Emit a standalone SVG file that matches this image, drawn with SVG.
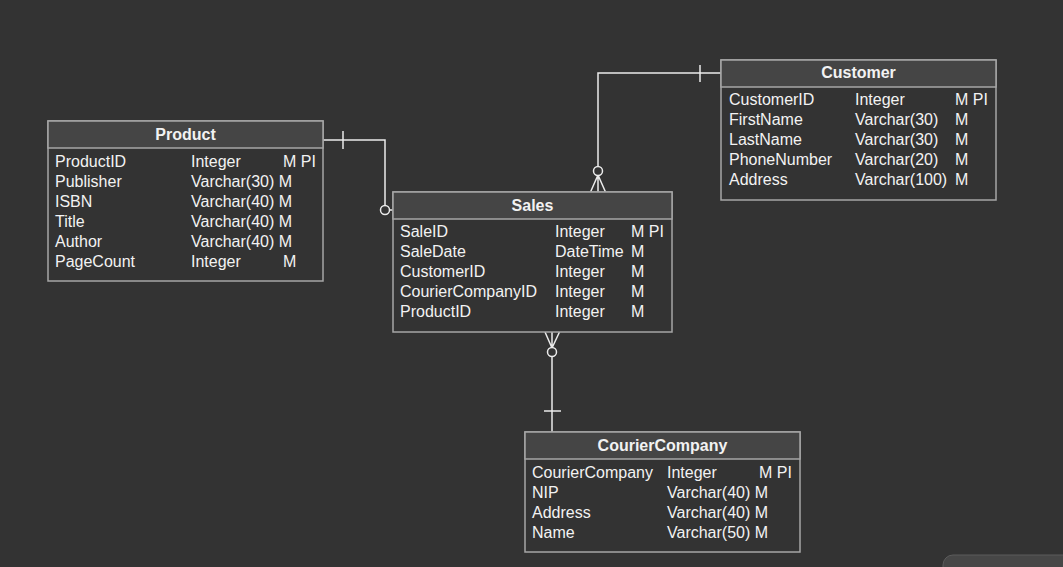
<svg xmlns="http://www.w3.org/2000/svg" width="1063" height="567" viewBox="0 0 1063 567">
<style>
.bg{fill:#333333}
.box{fill:#333333;stroke:#a6a6a6;stroke-width:1.5}
.hdr{fill:#454545;stroke:#a6a6a6;stroke-width:1.5}
.t{font-family:"Liberation Sans",Arial,sans-serif;font-size:16px;fill:#f2f2f2}
.h{font-family:"Liberation Sans",Arial,sans-serif;font-size:16px;font-weight:bold;fill:#f2f2f2;text-anchor:middle}
.c{fill:none;stroke:#ebebeb;stroke-width:1.5}
.o{fill:#333333;stroke:#ebebeb;stroke-width:1.5}
</style>
<rect class="bg" x="0" y="0" width="1063" height="567"/>
<rect x="943" y="555" width="140" height="40" rx="10" fill="#474747" stroke="#5c5c5c" stroke-width="1"/>

<g id="connectors">
  <!-- Product - Sales -->
  <path class="c" d="M323,140 H385 V205.5"/>
  <line class="c" x1="343" y1="131" x2="343" y2="149"/>
  <line class="c" x1="389.5" y1="210" x2="393" y2="210"/>
  <circle class="o" cx="385" cy="210" r="4.5"/>
  <!-- Customer - Sales -->
  <path class="c" d="M721,73 H598 V166.5"/>
  <line class="c" x1="700" y1="65" x2="700" y2="82"/>
  <path class="c" d="M598,175 L590.5,192 M598,175 L598,192 M598,175 L605.5,192"/>
  <circle class="o" cx="598" cy="171" r="4.5"/>
  <!-- Sales - CourierCompany -->
  <path class="c" d="M545,332 L552,348 M552,332 L552,348 M559.5,332 L552,348"/>
  <path class="c" d="M552,356.5 V432"/>
  <line class="c" x1="544" y1="411" x2="561" y2="411"/>
  <circle class="o" cx="552" cy="352" r="4.5"/>
</g>

<g id="product">
  <rect class="box" x="48" y="121" width="275" height="160"/>
  <rect class="hdr" x="48" y="121" width="275" height="27"/>
  <text class="h" x="185.5" y="140">Product</text>
  <text class="t" x="55" y="167">ProductID</text><text class="t" x="191" y="167">Integer</text><text class="t" x="283" y="167">M PI</text>
  <text class="t" x="55" y="187">Publisher</text><text class="t" x="191" y="187">Varchar(30) M</text>
  <text class="t" x="55" y="207">ISBN</text><text class="t" x="191" y="207">Varchar(40) M</text>
  <text class="t" x="55" y="227">Title</text><text class="t" x="191" y="227">Varchar(40) M</text>
  <text class="t" x="55" y="247">Author</text><text class="t" x="191" y="247">Varchar(40) M</text>
  <text class="t" x="55" y="267">PageCount</text><text class="t" x="191" y="267">Integer</text><text class="t" x="283" y="267">M</text>
</g>

<g id="sales">
  <rect class="box" x="393" y="192" width="279" height="140"/>
  <rect class="hdr" x="393" y="192" width="279" height="27"/>
  <text class="h" x="532.5" y="211">Sales</text>
  <text class="t" x="400" y="237">SaleID</text><text class="t" x="555" y="237">Integer</text><text class="t" x="631" y="237">M PI</text>
  <text class="t" x="400" y="257">SaleDate</text><text class="t" x="555" y="257">DateTime</text><text class="t" x="631" y="257">M</text>
  <text class="t" x="400" y="277">CustomerID</text><text class="t" x="555" y="277">Integer</text><text class="t" x="631" y="277">M</text>
  <text class="t" x="400" y="297">CourierCompanyID</text><text class="t" x="555" y="297">Integer</text><text class="t" x="631" y="297">M</text>
  <text class="t" x="400" y="317">ProductID</text><text class="t" x="555" y="317">Integer</text><text class="t" x="631" y="317">M</text>
</g>

<g id="customer">
  <rect class="box" x="721" y="60" width="275" height="140"/>
  <rect class="hdr" x="721" y="60" width="275" height="27"/>
  <text class="h" x="858.5" y="78">Customer</text>
  <text class="t" x="729" y="105">CustomerID</text><text class="t" x="855" y="105">Integer</text><text class="t" x="955" y="105">M PI</text>
  <text class="t" x="729" y="125">FirstName</text><text class="t" x="855" y="125">Varchar(30)</text><text class="t" x="955" y="125">M</text>
  <text class="t" x="729" y="145">LastName</text><text class="t" x="855" y="145">Varchar(30)</text><text class="t" x="955" y="145">M</text>
  <text class="t" x="729" y="165">PhoneNumber</text><text class="t" x="855" y="165">Varchar(20)</text><text class="t" x="955" y="165">M</text>
  <text class="t" x="729" y="185">Address</text><text class="t" x="855" y="185">Varchar(100)</text><text class="t" x="955" y="185">M</text>
</g>

<g id="couriercompany">
  <rect class="box" x="525" y="432" width="275" height="120"/>
  <rect class="hdr" x="525" y="432" width="275" height="27"/>
  <text class="h" x="662.5" y="451">CourierCompany</text>
  <text class="t" x="532" y="478">CourierCompany</text><text class="t" x="667" y="478">Integer</text><text class="t" x="759" y="478">M PI</text>
  <text class="t" x="532" y="498">NIP</text><text class="t" x="667" y="498">Varchar(40) M</text>
  <text class="t" x="532" y="518">Address</text><text class="t" x="667" y="518">Varchar(40) M</text>
  <text class="t" x="532" y="538">Name</text><text class="t" x="667" y="538">Varchar(50) M</text>
</g>
</svg>
